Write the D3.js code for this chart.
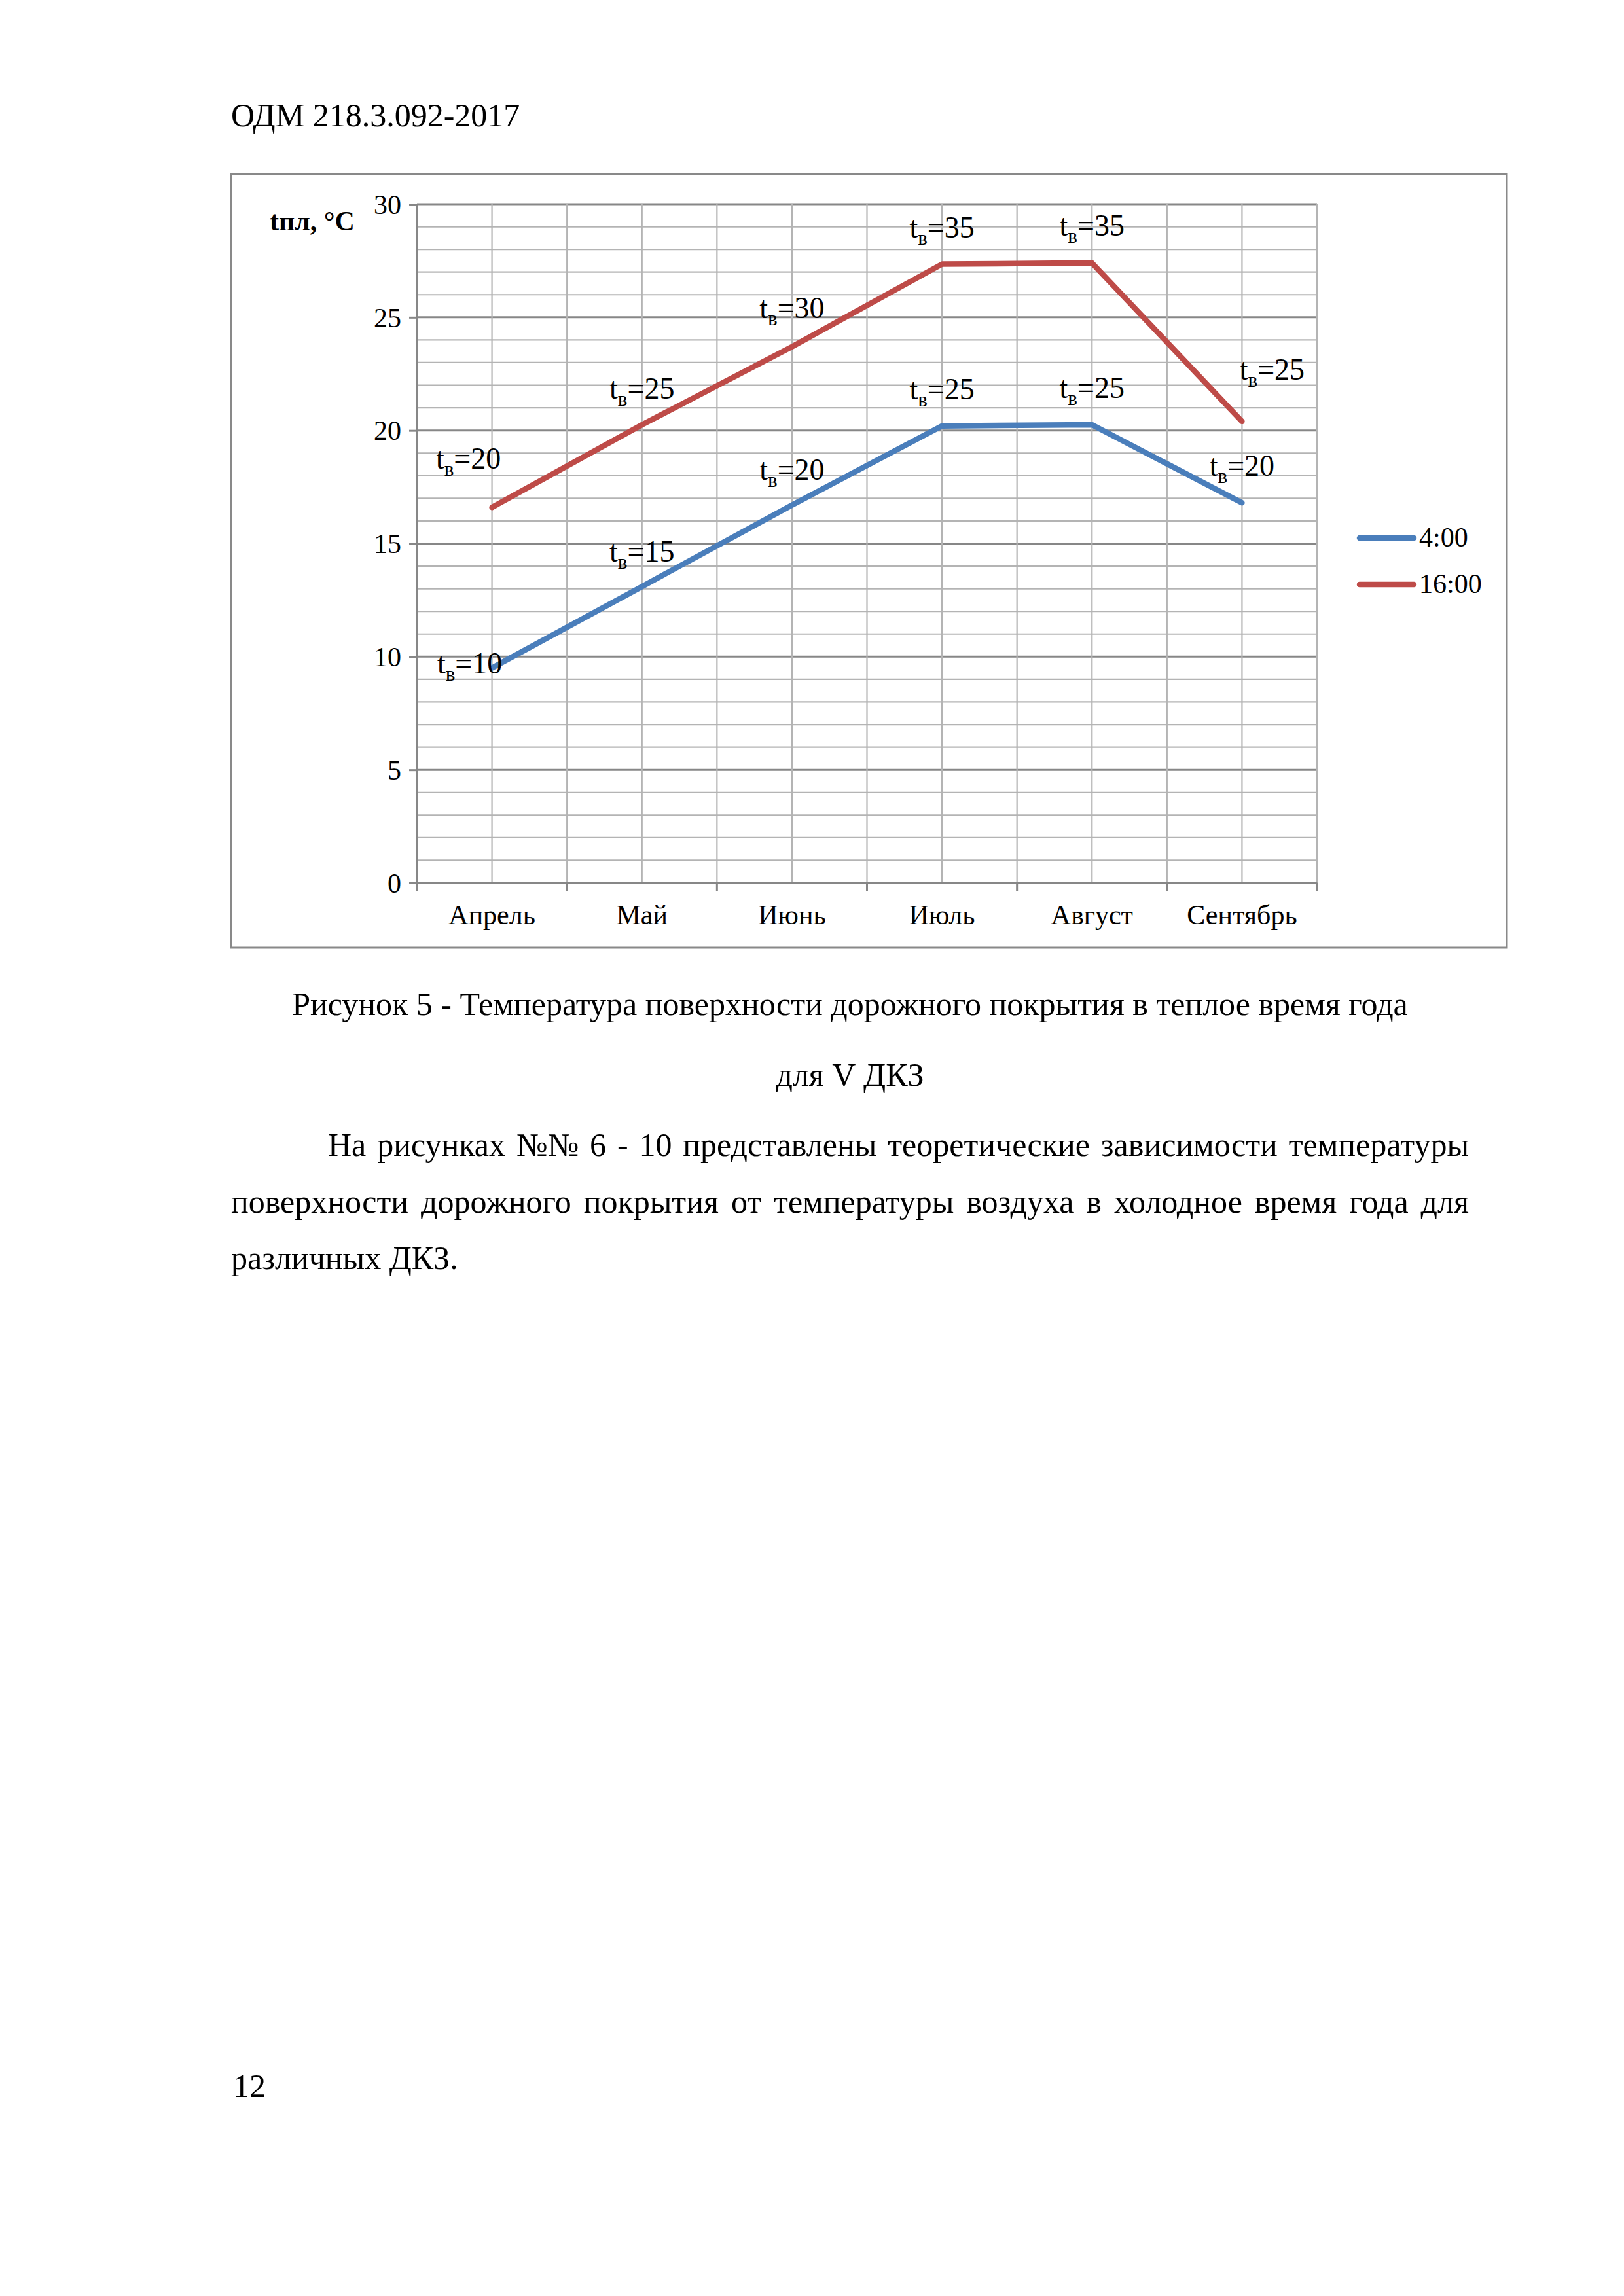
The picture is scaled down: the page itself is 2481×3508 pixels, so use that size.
<!DOCTYPE html>
<html><head><meta charset="utf-8">
<script src="https://cdn.jsdelivr.net/npm/d3@7/dist/d3.min.js"></script>
<style>html,body{margin:0;padding:0;background:#fff}svg{display:block}</style>
</head><body>
<script>
// ---- data ----
const months = ["Апрель", "Май", "Июнь", "Июль", "Август", "Сентябрь"];
const series4 = [9.5, 13.1, 16.7, 20.2, 20.25, 16.8];       // 4:00
const series16 = [16.6, 20.25, 23.7, 27.35, 27.4, 20.4];    // 16:00
const air4 = [10, 15, 20, 25, 25, 20];
const air16 = [20, 25, 30, 35, 35, 25];
const yTicks = [0, 5, 10, 15, 20, 25, 30];
const seriesNames = ["4:00", "16:00"];
const header = "ОДМ 218.3.092-2017";
const captionLines = ["Рисунок 5 - Температура поверхности дорожного покрытия в теплое время года", "для V ДКЗ"];
const paraLines = [
  "На рисунках №№ 6 - 10 представлены теоретические зависимости температуры",
  "поверхности дорожного покрытия от температуры воздуха в холодное время года для",
  "различных ДКЗ."
];
const pageNum = "12";

// ---- layout ----
const W = 2481, H = 3508;
const FONT = "'Liberation Serif','Times New Roman',serif";
const BODY = 50;
const colors = ["#4A7EBB", "#BE4B48"];
const svg = d3.select("body").append("svg").attr("width", W).attr("height", H);
svg.append("rect").attr("width", W).attr("height", H).attr("fill", "#fff");

// header
svg.append("text").attr("x", 353).attr("y", 193).attr("font-family", FONT)
  .attr("font-size", BODY).text(header);

// chart frame
svg.append("rect").attr("x", 353).attr("y", 266).attr("width", 2302 - 353).attr("height", 1448 - 266)
  .attr("fill", "none").attr("stroke", "#898989").attr("stroke-width", 3);

const x = d3.scaleBand().domain(months).range([637, 2012]).padding(0);
const y = d3.scaleLinear().domain([0, 30]).range([1349, 312]);
const cx = m => x(m) + x.bandwidth() / 2;

const g = svg.append("g");
// horizontal gridlines (major every 5, minor every 1)
g.selectAll(".hmin").data(d3.range(0, 31)).join("line")
  .attr("x1", 637).attr("x2", 2012).attr("y1", d => y(d)).attr("y2", d => y(d))
  .attr("stroke", d => d % 5 === 0 ? "#878787" : "#b4b4b4")
  .attr("stroke-width", d => d % 5 === 0 ? 3 : 2.2);
// vertical gridlines (boundaries and centers)
const vx = [];
months.forEach(m => { vx.push(x(m)); vx.push(cx(m)); });
vx.push(x(months[months.length - 1]) + x.bandwidth());
g.selectAll(".vg").data(vx.slice(1)).join("line")
  .attr("x1", d => d).attr("x2", d => d).attr("y1", y(30)).attr("y2", y(0))
  .attr("stroke", "#b4b4b4").attr("stroke-width", 2.2);

// axes
const yAxis = d3.axisLeft(y).tickValues(yTicks).tickSize(12).tickPadding(12).tickFormat(d3.format("d"));
const ya = svg.append("g").attr("transform", "translate(637,0)").call(yAxis);
ya.select(".domain").attr("stroke", "#878787").attr("stroke-width", 3);
ya.selectAll(".tick line").attr("stroke", "#878787").attr("stroke-width", 3);
ya.selectAll(".tick text").attr("font-family", FONT).attr("font-size", 42).attr("fill", "#000").attr("dy", "0.34em");

const xAxis = d3.axisBottom(x).tickSize(0).tickPadding(0);
const xa = svg.append("g").attr("transform", "translate(0,1349)").call(xAxis);
xa.select(".domain").attr("stroke", "#878787").attr("stroke-width", 3);
xa.selectAll(".tick text").attr("font-family", FONT).attr("font-size", 42).attr("fill", "#000")
  .attr("dy", 0).attr("y", 63);
// category boundary tick marks
const bounds = months.map(m => x(m)).concat([x(months[months.length - 1]) + x.bandwidth()]);
svg.selectAll(".bt").data(bounds).join("line")
  .attr("x1", d => d).attr("x2", d => d).attr("y1", 1349).attr("y2", 1362)
  .attr("stroke", "#878787").attr("stroke-width", 3);

// y title
svg.append("text").attr("x", 412).attr("y", 352).attr("font-family", FONT).attr("font-size", 42)
  .attr("font-weight", "bold").text("tпл, °C");

// series lines
const line = d3.line().x((d, i) => cx(months[i])).y(d => y(d));
[series4, series16].forEach((s, k) => {
  svg.append("path").datum(s).attr("d", line).attr("fill", "none")
    .attr("stroke", colors[k]).attr("stroke-width", 8.5)
    .attr("stroke-linejoin", "round").attr("stroke-linecap", "round");
});

// data labels (manual offsets: [dx, dy] of label centre/baseline relative to point)
const off4 = [[-34, 8], [0, -38], [0, -39], [0, -41], [0, -41], [0, -41]];
const off16 = [[-36, -59], [0, -40], [0, -44], [0, -41], [0, -42], [46, -64]];
function label(val, m, air, o) {
  const t = svg.append("text").attr("x", cx(m) + o[0]).attr("y", y(val) + o[1])
    .attr("font-family", FONT).attr("font-size", 46).attr("text-anchor", "middle").attr("fill", "#000");
  t.append("tspan").text("t");
  t.append("tspan").attr("font-size", 31).attr("dy", 11).text("в");
  t.append("tspan").attr("dy", -11).text("=" + air);
}
series4.forEach((v, i) => label(v, months[i], air4[i], off4[i]));
series16.forEach((v, i) => label(v, months[i], air16[i], off16[i]));

// legend
const legY = [822, 893];
seriesNames.forEach((n, k) => {
  svg.append("line").attr("x1", 2077).attr("x2", 2160).attr("y1", legY[k]).attr("y2", legY[k])
    .attr("stroke", colors[k]).attr("stroke-width", 8.5).attr("stroke-linecap", "round");
  svg.append("text").attr("x", 2168).attr("y", legY[k] + 13).attr("font-family", FONT)
    .attr("font-size", 42).text(n);
});

// caption (centered in text column 353..2244)
const colL = 353, colR = 2244, colC = (colL + colR) / 2;
svg.append("text").attr("x", colC).attr("y", 1551).attr("text-anchor", "middle")
  .attr("font-family", FONT).attr("font-size", BODY).text(captionLines[0]);
svg.append("text").attr("x", colC).attr("y", 1659).attr("text-anchor", "middle")
  .attr("font-family", FONT).attr("font-size", BODY).text(captionLines[1]);

// justified paragraph
function justify(str, x0, x1, yb, just) {
  const words = str.split(" ");
  const nodes = words.map(w => svg.append("text").attr("y", yb).attr("font-family", FONT)
    .attr("font-size", BODY).text(w));
  const widths = nodes.map(n => n.node().getComputedTextLength());
  const total = d3.sum(widths);
  const gap = just && words.length > 1 ? Math.max(BODY * 0.25, (x1 - x0 - total) / (words.length - 1)) : BODY * 0.25;
  let cur = x0;
  nodes.forEach((n, i) => { n.attr("x", cur); cur += widths[i] + gap; });
}
justify(paraLines[0], 501, colR, 1766, true);
justify(paraLines[1], colL, colR, 1853, true);
justify(paraLines[2], colL, colR, 1939, false);

// page number
svg.append("text").attr("x", 356).attr("y", 3204).attr("font-family", FONT)
  .attr("font-size", BODY).text(pageNum);
</script>
</body></html>
